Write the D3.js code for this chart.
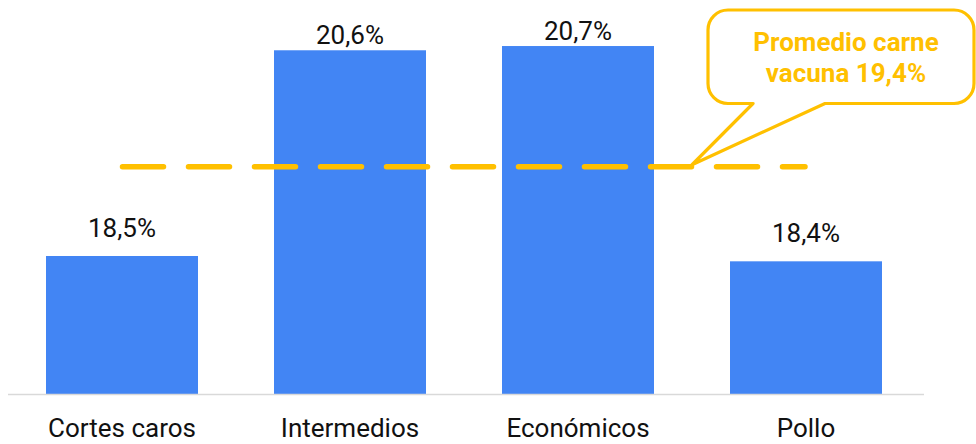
<!DOCTYPE html>
<html>
<head>
<meta charset="utf-8">
<script src="https://cdn.jsdelivr.net/npm/d3@7"></script>
<style>
  html, body { margin: 0; padding: 0; background: #fff; }
  svg { display: block; font-family: Roboto, "Noto Sans", sans-serif; }
</style>
</head>
<body>
<svg id="chart" width="976" height="444"></svg>
<script>
// ---- data ----
const categories = ["Cortes caros", "Intermedios", "Económicos", "Pollo"];
const values = [18.475, 20.607, 20.651, 18.42];
const averageValue = 19.4;
const averageLabel = ["Promedio carne", "vacuna 19,4%"];

// ---- setup ----
const W = 976, H = 444;
const svg = d3.select("#chart");
const blue = "#4285F4";
const yellow = "#FFC000";

const x = d3.scaleBand()
  .domain(categories)
  .range([8, 920])
  .paddingInner(1 / 3)
  .paddingOuter(1 / 6);

const y = d3.scaleLinear()
  .domain([17.045, 21.128])
  .range([394, 0]);

const fmt = v => d3.format(".1f")(v).replace(".", ",") + "%";

// bars
svg.append("g").selectAll("rect")
  .data(categories)
  .join("rect")
  .attr("x", d => x(d))
  .attr("y", (d, i) => y(values[i]))
  .attr("width", x.bandwidth())
  .attr("height", (d, i) => y.range()[0] - y(values[i]))
  .attr("fill", blue);

// value labels
svg.append("g").selectAll("text")
  .data(categories)
  .join("text")
  .attr("x", d => x(d) + x.bandwidth() / 2)
  .attr("y", (d, i) => {
    const top = y(values[i]);
    return top - 19 < 40 ? top - 6.5 : top - 19;
  })
  .attr("text-anchor", "middle")
  .attr("font-size", 26)
  .attr("fill", "#111")
  .text((d, i) => fmt(values[i]));

// x axis
const axis = svg.append("g")
  .attr("transform", `translate(0,${y.range()[0]})`)
  .call(d3.axisBottom(x).tickSize(0).tickSizeOuter(0));
axis.select(".domain")
  .attr("stroke", "#d9d9d9")
  .attr("stroke-width", 1.6)
  .attr("d", "M8,0.5H924");
axis.selectAll(".tick text")
  .attr("y", 42.7)
  .attr("dy", 0)
  .attr("font-size", 26)
  .attr("font-family", "Roboto, 'Noto Sans', sans-serif")
  .attr("fill", "#111");

// average dashed line
const avgY = y(averageValue);
svg.append("line")
  .attr("x1", 122.5)
  .attr("x2", 805)
  .attr("y1", avgY)
  .attr("y2", avgY)
  .attr("stroke", yellow)
  .attr("stroke-width", 5.5)
  .attr("stroke-linecap", "round")
  .attr("stroke-dasharray", "41 25");

// callout
const tipX = x(categories[2]) + x.bandwidth() + (x.step() - x.bandwidth()) / 2;
const tipY = avgY - 2;
const bx0 = 708, bx1 = 974, by0 = 10, by1 = 103.5, r = 20;
const p1 = 753, p2 = 825;
const path = [
  `M${bx0 + r},${by0}`,
  `H${bx1 - r}`,
  `A${r},${r} 0 0 1 ${bx1},${by0 + r}`,
  `V${by1 - r}`,
  `A${r},${r} 0 0 1 ${bx1 - r},${by1}`,
  `H${p2}`,
  `L${tipX},${tipY}`,
  `L${p1},${by1}`,
  `H${bx0 + r}`,
  `A${r},${r} 0 0 1 ${bx0},${by1 - r}`,
  `V${by0 + r}`,
  `A${r},${r} 0 0 1 ${bx0 + r},${by0}`,
  "Z"
].join(" ");
svg.append("path")
  .attr("d", path)
  .attr("fill", "#fff")
  .attr("stroke", yellow)
  .attr("stroke-width", 3.2)
  .attr("stroke-linejoin", "round");

svg.append("g").selectAll("text")
  .data(averageLabel)
  .join("text")
  .attr("x", 846)
  .attr("y", (d, i) => 50.7 + i * 31)
  .attr("text-anchor", "middle")
  .attr("font-size", 26)
  .attr("font-weight", "bold")
  .attr("fill", yellow)
  .text(d => d);
</script>
</body>
</html>
